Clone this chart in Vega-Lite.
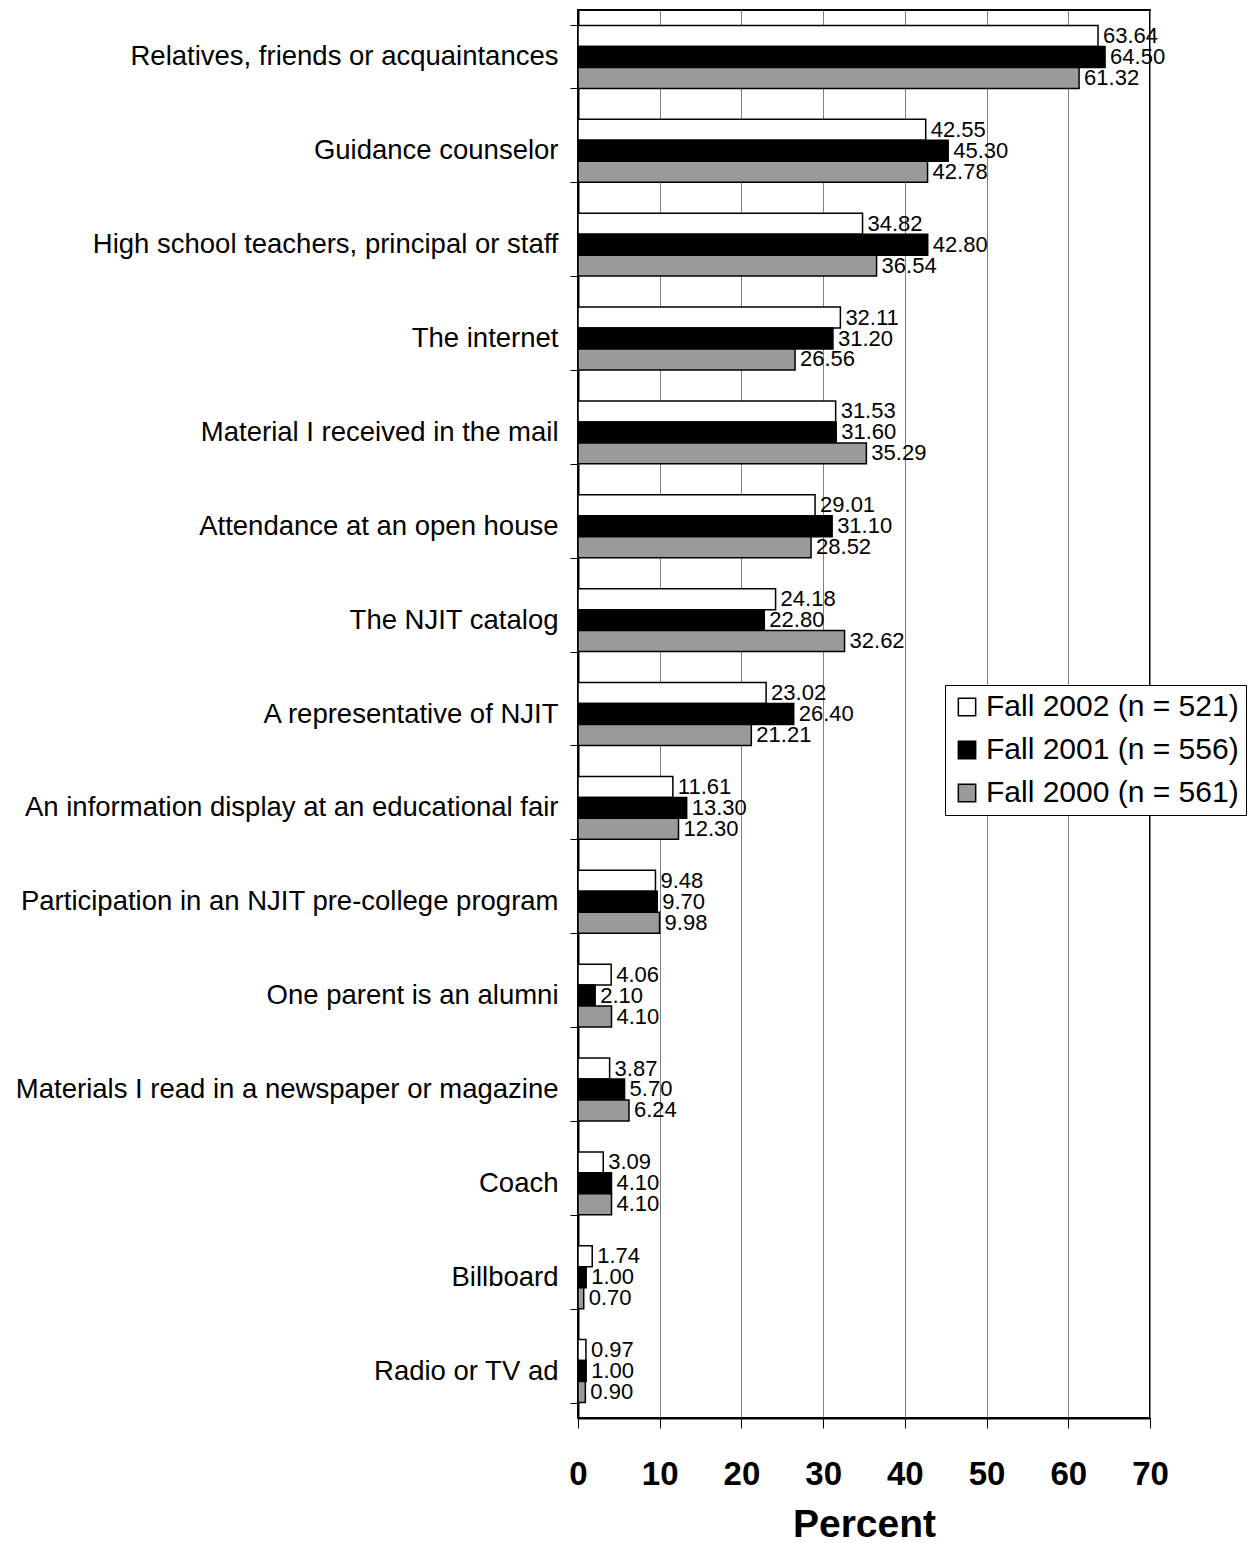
{
  "$schema": "https://vega.github.io/schema/vega-lite/v6.json",
  "autosize": "none",
  "width": 572,
  "height": 1408,
  "padding": {"left": 578, "top": 10, "right": 98, "bottom": 125},
  "background": "white",
  "config": {
    "font": "Liberation Sans",
    "view": {"stroke": "black", "strokeWidth": 2}
  },
  "data": {
    "values": [
      {"cat": "Relatives, friends or acquaintances", "series": "Fall 2002 (n = 521)", "value": 63.64},
      {"cat": "Relatives, friends or acquaintances", "series": "Fall 2001 (n = 556)", "value": 64.50},
      {"cat": "Relatives, friends or acquaintances", "series": "Fall 2000 (n = 561)", "value": 61.32},
      {"cat": "Guidance counselor", "series": "Fall 2002 (n = 521)", "value": 42.55},
      {"cat": "Guidance counselor", "series": "Fall 2001 (n = 556)", "value": 45.30},
      {"cat": "Guidance counselor", "series": "Fall 2000 (n = 561)", "value": 42.78},
      {"cat": "High school teachers, principal or staff", "series": "Fall 2002 (n = 521)", "value": 34.82},
      {"cat": "High school teachers, principal or staff", "series": "Fall 2001 (n = 556)", "value": 42.80},
      {"cat": "High school teachers, principal or staff", "series": "Fall 2000 (n = 561)", "value": 36.54},
      {"cat": "The internet", "series": "Fall 2002 (n = 521)", "value": 32.11},
      {"cat": "The internet", "series": "Fall 2001 (n = 556)", "value": 31.20},
      {"cat": "The internet", "series": "Fall 2000 (n = 561)", "value": 26.56},
      {"cat": "Material I received in the mail", "series": "Fall 2002 (n = 521)", "value": 31.53},
      {"cat": "Material I received in the mail", "series": "Fall 2001 (n = 556)", "value": 31.60},
      {"cat": "Material I received in the mail", "series": "Fall 2000 (n = 561)", "value": 35.29},
      {"cat": "Attendance at an open house", "series": "Fall 2002 (n = 521)", "value": 29.01},
      {"cat": "Attendance at an open house", "series": "Fall 2001 (n = 556)", "value": 31.10},
      {"cat": "Attendance at an open house", "series": "Fall 2000 (n = 561)", "value": 28.52},
      {"cat": "The NJIT catalog", "series": "Fall 2002 (n = 521)", "value": 24.18},
      {"cat": "The NJIT catalog", "series": "Fall 2001 (n = 556)", "value": 22.80},
      {"cat": "The NJIT catalog", "series": "Fall 2000 (n = 561)", "value": 32.62},
      {"cat": "A representative of NJIT", "series": "Fall 2002 (n = 521)", "value": 23.02},
      {"cat": "A representative of NJIT", "series": "Fall 2001 (n = 556)", "value": 26.40},
      {"cat": "A representative of NJIT", "series": "Fall 2000 (n = 561)", "value": 21.21},
      {"cat": "An information display at an educational fair", "series": "Fall 2002 (n = 521)", "value": 11.61},
      {"cat": "An information display at an educational fair", "series": "Fall 2001 (n = 556)", "value": 13.30},
      {"cat": "An information display at an educational fair", "series": "Fall 2000 (n = 561)", "value": 12.30},
      {"cat": "Participation in an NJIT pre-college program", "series": "Fall 2002 (n = 521)", "value": 9.48},
      {"cat": "Participation in an NJIT pre-college program", "series": "Fall 2001 (n = 556)", "value": 9.70},
      {"cat": "Participation in an NJIT pre-college program", "series": "Fall 2000 (n = 561)", "value": 9.98},
      {"cat": "One parent is an alumni", "series": "Fall 2002 (n = 521)", "value": 4.06},
      {"cat": "One parent is an alumni", "series": "Fall 2001 (n = 556)", "value": 2.10},
      {"cat": "One parent is an alumni", "series": "Fall 2000 (n = 561)", "value": 4.10},
      {"cat": "Materials I read in a newspaper or magazine", "series": "Fall 2002 (n = 521)", "value": 3.87},
      {"cat": "Materials I read in a newspaper or magazine", "series": "Fall 2001 (n = 556)", "value": 5.70},
      {"cat": "Materials I read in a newspaper or magazine", "series": "Fall 2000 (n = 561)", "value": 6.24},
      {"cat": "Coach", "series": "Fall 2002 (n = 521)", "value": 3.09},
      {"cat": "Coach", "series": "Fall 2001 (n = 556)", "value": 4.10},
      {"cat": "Coach", "series": "Fall 2000 (n = 561)", "value": 4.10},
      {"cat": "Billboard", "series": "Fall 2002 (n = 521)", "value": 1.74},
      {"cat": "Billboard", "series": "Fall 2001 (n = 556)", "value": 1.00},
      {"cat": "Billboard", "series": "Fall 2000 (n = 561)", "value": 0.70},
      {"cat": "Radio or TV ad", "series": "Fall 2002 (n = 521)", "value": 0.97},
      {"cat": "Radio or TV ad", "series": "Fall 2001 (n = 556)", "value": 1.00},
      {"cat": "Radio or TV ad", "series": "Fall 2000 (n = 561)", "value": 0.90}
    ]
  },
  "encoding": {
    "y": {
      "field": "cat",
      "type": "nominal",
      "sort": null,
      "scale": {"paddingInner": 0.33, "paddingOuter": 0.165},
      "axis": {
        "title": null,
        "labelFontSize": 27.5,
        "labelColor": "black",
        "labelPadding": 12,
        "labelLimit": 700,
        "tickBand": "extent",
        "tickSize": 8,
        "tickColor": "black",
        "tickWidth": 1,
        "domainColor": "black",
        "domainWidth": 2,
        "grid": false
      }
    },
    "yOffset": {
      "field": "series",
      "type": "nominal",
      "sort": ["Fall 2002 (n = 521)", "Fall 2001 (n = 556)", "Fall 2000 (n = 561)"],
      "scale": {"paddingInner": 0, "paddingOuter": 0}
    },
    "x": {
      "field": "value",
      "type": "quantitative",
      "scale": {"domain": [0, 70], "nice": false},
      "axis": {
        "title": "Percent",
        "titleFontSize": 39,
        "titleFontWeight": "bold",
        "titleColor": "black",
        "titlePadding": 14,
        "values": [0, 10, 20, 30, 40, 50, 60, 70],
        "labelFontSize": 33,
        "labelFontWeight": "bold",
        "labelColor": "black",
        "labelPadding": 30,
        "labelFlush": false,
        "tickSize": 10,
        "tickColor": "black",
        "domainColor": "black",
        "domainWidth": 2,
        "grid": true,
        "gridColor": "#808080",
        "gridWidth": 1
      }
    }
  },
  "layer": [
    {
      "mark": {"type": "bar", "stroke": "black", "strokeWidth": 1.5},
      "encoding": {
        "fill": {
          "field": "series",
          "type": "nominal",
          "sort": ["Fall 2002 (n = 521)", "Fall 2001 (n = 556)", "Fall 2000 (n = 561)"],
          "scale": {
            "domain": ["Fall 2002 (n = 521)", "Fall 2001 (n = 556)", "Fall 2000 (n = 561)"],
            "range": ["white", "black", "#9a9a9a"]
          },
          "legend": {
            "title": null,
            "orient": "none",
            "legendX": 367,
            "legendY": 675,
            "labelFontSize": 30,
            "labelColor": "black",
            "labelLimit": 400,
            "symbolType": "square",
            "symbolSize": 300,
            "symbolStrokeColor": "black",
            "symbolStrokeWidth": 1.5,
            "rowPadding": 13,
            "labelOffset": 4,
            "strokeColor": "black",
            "fillColor": "white",
            "padding": 7
          }
        }
      }
    },
    {
      "mark": {"type": "text", "align": "left", "baseline": "middle", "dx": 5, "fontSize": 22, "color": "black"},
      "encoding": {
        "text": {"field": "value", "type": "quantitative", "format": ".2f"}
      }
    }
  ]
}
